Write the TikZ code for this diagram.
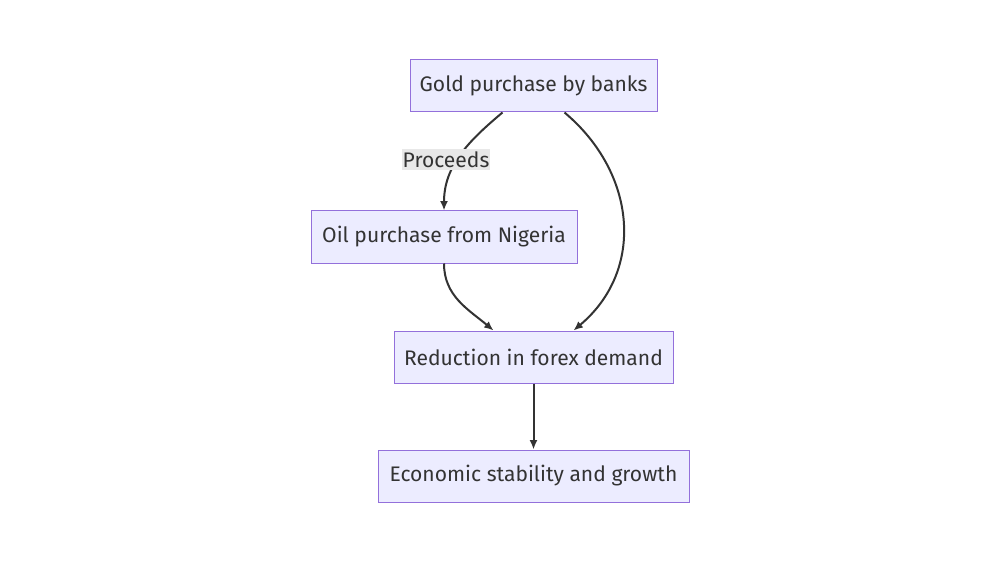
\documentclass[tikz,border=0pt]{standalone}
\usepackage{fontspec}
\setmainfont{Fira Sans}
\usepackage{tikz}
\usetikzlibrary{positioning,calc}
\usetikzlibrary{arrows.meta}
\usetikzlibrary{shapes}
\definecolor{boxfill}{HTML}{ECECFF}
\definecolor{boxline}{HTML}{9370DB}
\definecolor{ink}{HTML}{333333}
\definecolor{labelbg}{HTML}{E8E8E8}
\tikzset{
  stepnode/.style={draw=boxline,fill=boxfill,line width=0.75pt,text=ink,
    minimum height=39pt,inner sep=0pt,font=\fontsize{15.8}{19}\selectfont},
  flow/.style={draw=ink,line width=1.5pt,-{Latex[length=7pt,width=6pt]}},
  edgetag/.style={fill=labelbg,text=ink,inner xsep=0.5pt,inner ysep=2pt,font=\fontsize{15.8}{19}\selectfont}
}
\begin{document}
\begin{tikzpicture}[x=0.75pt,y=-0.75pt]
   \useasboundingbox (0,0) rectangle (1000,563);
   \node[stepnode,minimum width=185.25pt] (gold) at (533.5,86)  {Gold purchase by banks};
   \node[stepnode,minimum width=199.5pt]  (oil)  at (444,237)   {Oil purchase from Nigeria};
   \node[stepnode,minimum width=209.25pt] (red)  at (533.5,357) {Reduction in forex demand};
   \node[stepnode,minimum width=233.25pt] (econ) at (533.5,476) {Economic stability and growth};
    \path[every edge/.style={flow}]
    ($(gold.south)+(-31,0)$) edge [out=-140,in=90] node[edgetag,pos=0.54,xshift=-9pt] {Proceeds} (oil.north)
    ($(gold.south)+(31,0)$)  edge [out=-40,in=40,looseness=1.1] ($(red.north)+(40,0)$)
    (oil.south)              edge [out=-90,in=140] ($(red.north)+(-40,0)$)
    (red.south)              edge (econ.north);
\end{tikzpicture}
\end{document}
